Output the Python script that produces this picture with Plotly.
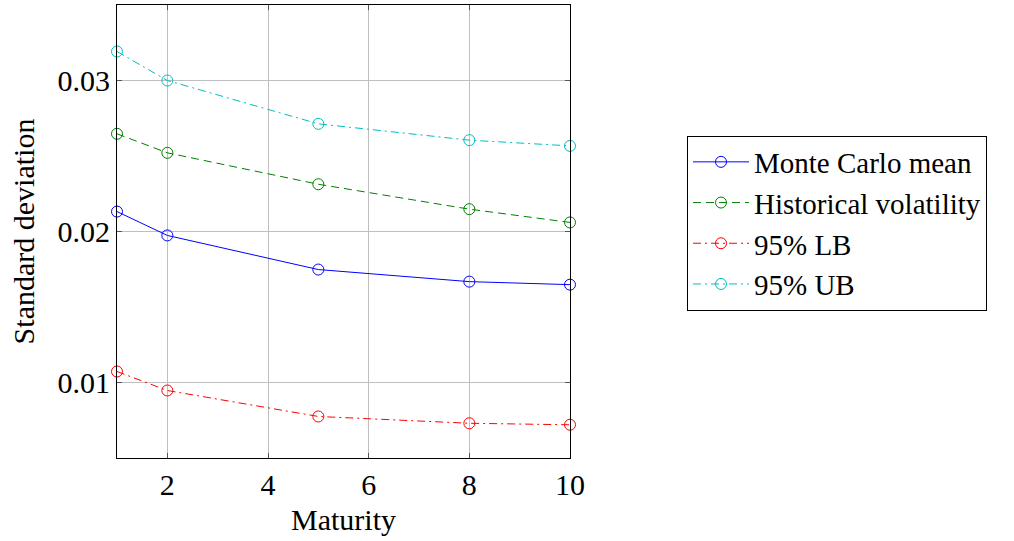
import plotly.graph_objects as go

maturity = [1, 2, 5, 8, 10]
mc_mean = [0.02132, 0.01974, 0.01748, 0.01668, 0.01648]
hist_vol = [0.02647, 0.02521, 0.02313, 0.02148, 0.02060]
lb95 = [0.01073, 0.00947, 0.00775, 0.00730, 0.00720]
ub95 = [0.03192, 0.03000, 0.02713, 0.02605, 0.02567]

series = [
    ("Monte Carlo mean", mc_mean, "rgb(0,0,255)", "solid"),
    ("Historical volatility", hist_vol, "rgb(0,128,0)", "8px,5px"),
    ("95% LB", lb95, "rgb(255,0,0)", "8px,4px,2px,4px"),
    ("95% UB", ub95, "rgb(0,191,191)", "8px,4px,2px,4px"),
]

FONT = "Liberation Serif"
FS = 30
fig = go.Figure()
for name, vals, col, dash in series:
    fig.add_trace(go.Scatter(
        x=maturity, y=vals, name=name, mode="lines+markers",
        line=dict(color=col, width=1, dash=dash),
        marker=dict(symbol="circle-open", size=11, color=col, line=dict(width=1, color=col)),
        cliponaxis=False,
    ))

axis_common = dict(
    showgrid=True, gridcolor="#bfbfbf", gridwidth=1,
    showline=True, linecolor="black", linewidth=1, mirror="allticks",
    ticks="inside", ticklen=5, tickcolor="#555555",
    zeroline=False,
    tickfont=dict(family=FONT, size=FS, color="black"),
)

fig.update_layout(
    width=1014, height=541,
    margin=dict(l=117, r=444, t=5, b=83),
    paper_bgcolor="white", plot_bgcolor="white",
    font=dict(family=FONT, size=FS, color="black"),
    xaxis=dict(range=[1, 10], tickvals=[2, 4, 6, 8, 10],
               title=dict(text="Maturity", font=dict(family=FONT, size=FS), standoff=8),
               **axis_common),
    yaxis=dict(range=[0.005, 0.035], tickvals=[0.01, 0.02, 0.03], tickformat=".2f",
               title=dict(text="Standard deviation", font=dict(family=FONT, size=FS), standoff=14),
               **axis_common),
    legend=dict(
        x=(687 - 117) / 453, xanchor="left",
        y=1 - (223 - 5) / 453, yanchor="middle",
        bordercolor="black", borderwidth=1, bgcolor="white",
        font=dict(family=FONT, size=29, color="black"),
        itemwidth=56,
    ),
)

fig.write_html("out.html", config={"displayModeBar": False},
               post_script="document.body.style.margin='0';document.body.style.overflow='hidden';")
